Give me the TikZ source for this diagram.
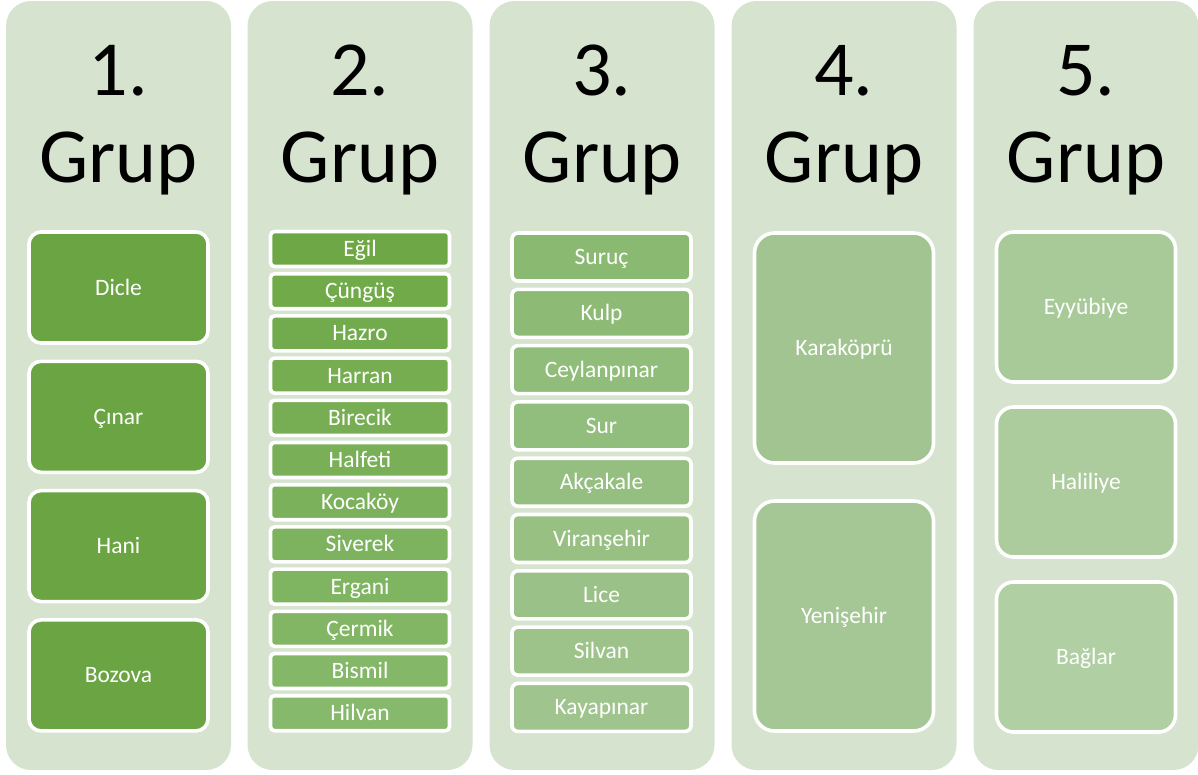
\documentclass[tikz,border=0pt]{standalone}
\usepackage{fontspec}
\setmainfont{Carlito}
\definecolor{bgc}{HTML}{D6E3CE}
\definecolor{ca}{HTML}{6AA443}
\definecolor{cb1}{HTML}{6EA846}
\definecolor{cb2}{HTML}{86B96B}
\definecolor{cc1}{HTML}{8ABA72}
\definecolor{cc2}{HTML}{A0C48E}
\definecolor{cd1}{HTML}{A1C491}
\definecolor{cd2}{HTML}{A5C795}
\definecolor{ce1}{HTML}{A8CA98}
\definecolor{ce2}{HTML}{B0CFA2}
\begin{document}
\begin{tikzpicture}[x=1pt,y=-1pt,
  colbg/.style={fill=bgc, rounded corners=25pt, minimum width=225pt, minimum height=769pt, inner sep=0pt},
  title/.style={anchor=base, font=\fontsize{78}{90}\selectfont, text=black, inner sep=0pt},
  item/.style={draw=white, line width=3.6pt, text=white, inner sep=0pt,
    font=\fontsize{23.5}{28}\selectfont, text height=15.1pt, text depth=0pt,
    minimum width=179pt}]
\useasboundingbox (0,0) rectangle (1198,774);
% column backgrounds
\foreach \i/\cx in {1/118.5,2/360,3/602,4/844,5/1086}{
  \node[colbg] (col\i) at (\cx,385.5) {};
  \node[title] (t\i n) at (\cx,95) {\i.};
  \node[title] (t\i g) at (\cx,182) {Grup};
}
% column 1
\foreach \n/\t in {0/Dicle,1/Çınar,2/Hani,3/Bozova}{
  \node[item, fill=ca, rounded corners=12pt, minimum height=111pt] (a\n) at (118.5,{287.5+129.3*\n}) {\t};
}
% column 2
\foreach \n/\t in {0/Eğil,1/Çüngüş,2/Hazro,3/Harran,4/Birecik,5/Halfeti,6/Kocaköy,7/Siverek,8/Ergani,9/Çermik,10/Bismil,11/Hilvan}{
  \pgfmathsetmacro\pc{100-100*\n/11}
  \node[item, fill=cb1!\pc!cb2, rounded corners=4pt, minimum height=35pt] (b\n) at (360,{249+42.2*\n}) {\t};
}
% column 3
\foreach \n/\t in {0/Suruç,1/Kulp,2/Ceylanpınar,3/Sur,4/Akçakale,5/Viranşehir,6/Lice,7/Silvan,8/Kayapınar}{
  \pgfmathsetmacro\pc{100-100*\n/8}
  \node[item, fill=cc1!\pc!cc2, rounded corners=6pt, minimum height=48pt] (c\n) at (601.5,{257+56.3*\n}) {\t};
}
% column 4
\node[item, fill=cd1, rounded corners=20pt, minimum height=230pt] (d0) at (844,348) {Karaköprü};
\node[item, fill=cd2, rounded corners=20pt, minimum height=230pt] (d1) at (844,616) {Yenişehir};
% column 5
\node[item, fill=ce1, rounded corners=17pt, minimum height=150pt] (e0) at (1086,307) {Eyyübiye};
\node[item, fill=ce1!50!ce2, rounded corners=17pt, minimum height=150pt] (e1) at (1086,482) {Haliliye};
\node[item, fill=ce2, rounded corners=17pt, minimum height=150pt] (e2) at (1086,657) {Bağlar};
\end{tikzpicture}
\end{document}
